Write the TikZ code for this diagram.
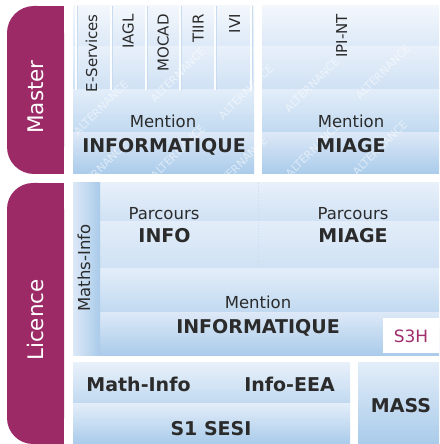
\documentclass[tikz,border=0pt]{standalone}
\usepackage{fontspec}
\setmainfont{DejaVu Sans}
\definecolor{tabc}{HTML}{9B2A67}
\definecolor{txt}{HTML}{2B2B2B}
\definecolor{sthree}{HTML}{A02F6C}
\definecolor{bA}{HTML}{F3F7FC}
\definecolor{bB}{HTML}{DCE9F7}
\definecolor{bC}{HTML}{E8F0FA}
\definecolor{bD}{HTML}{CFE1F4}
\definecolor{bE}{HTML}{E2EDF9}
\definecolor{bF}{HTML}{C0D9F0}
\definecolor{bG}{HTML}{DCE8F7}
\definecolor{bH}{HTML}{A9CBEA}
\definecolor{divc}{HTML}{C9DCEF}
\tikzset{
  tab/.style={fill=tabc},
  tablabel/.style={font=\fontsize{21.5}{21.5}\selectfont, text=white, rotate=90, anchor=base, inner sep=0pt},
  reg/.style={font=\fontsize{16.5}{16.5}\selectfont, text=txt, anchor=base, inner sep=0pt},
  bld/.style={font=\bfseries\fontsize{19}{19}\selectfont, text=txt, anchor=base, inner sep=0pt},
  vlab/.style={font=\fontsize{15}{15}\selectfont, text=txt, rotate=90, anchor=base east, inner sep=0pt},
  band/.style 2 args={top color=#1, bottom color=#2},
  wm/.style={font=\fontsize{11}{11}\selectfont, text=white, rotate=45, opacity=0.55, inner sep=0pt},
}
\begin{document}
\begin{tikzpicture}[x=1pt,y=1pt]
\useasboundingbox (0,0) rectangle (439,444);
\fill[white] (0,0) rectangle (439,444);
% ---------- tabs
\fill[tab, rounded corners=27pt] (7,270) rectangle (64,438);
\fill[tab] (36,270) rectangle (64,438);
\fill[tab, rounded corners=26pt] (7,0) rectangle (64,261);
\fill[tab] (36,0) rectangle (64,261);
\node[tablabel] (master) at (43.5,347) {Master};
\node[tablabel] (licence) at (43.5,124) {Licence};
% ---------- Master panels
\foreach \xa/\xb in {73/254, 262/439}{
  \shade[band={bA}{bB}] (\xa,397) rectangle (\xb,438);
  \shade[band={bC}{bD}] (\xa,354) rectangle (\xb,397);
  \shade[band={bE}{bF}] (\xa,311) rectangle (\xb,354);
  \shade[band={bG}{bH}] (\xa,270) rectangle (\xb,311);
}
% column dividers
\foreach \xd in {76,111,146,180,215,251}{
  \draw[white, line width=1.4pt, opacity=0.9] (\xd,438) -- (\xd,354);
  \draw[divc, line width=0.8pt] (\xd+1.3,438) -- (\xd+1.3,354);
}
% watermark
\begin{scope}
  \clip (73,270) rectangle (254,438) (262,270) rectangle (439,438);
  \foreach \wx/\wy [count=\i] in {101/336, 178/369, 246/352, 100/275, 178/292, 240/280,
      312/359, 383/372, 313/294, 380/296}{
    \node[wm] (wm\i) at (\wx,\wy) {ALTERNANCE};
  }
\end{scope}
\node[vlab] (eserv) at (97,430) {E-Services};
\node[vlab] (iagl) at (133.5,430) {IAGL};
\node[vlab] (mocad) at (168.5,430) {MOCAD};
\node[vlab] (tiir) at (203.5,430) {TIIR};
\node[vlab] (ivi) at (240,430) {IVI};
\node[vlab] (ipint) at (347,430) {IPI-NT};
\node[reg] (mentM) at (163,316) {Mention};
\node[bld] (infoM) at (164,291) {INFORMATIQUE};
\node[reg] (mentMi) at (351,316) {Mention};
\node[bld] (miageM) at (351,291) {MIAGE};
% ---------- Licence panel
\shade[band={bC}{bD}] (73,222) rectangle (439,261);
\shade[band={bE}{bD}] (73,175) rectangle (439,222);
\shade[band={bE}{bF}] (73,131) rectangle (439,175);
\shade[band={bG}{bH}] (73,88) rectangle (439,131);
\shade[left color=bG, right color=bH] (73,88) rectangle (100,261);
\draw[divc, dotted, line width=0.8pt] (258,261) -- (258,175);
\node[font=\fontsize{16.5}{16.5}\selectfont, text=txt, rotate=90, anchor=base, inner sep=0pt] (mathsinfo) at (90,176) {Maths-Info};
\node[reg] (parcI) at (164,224) {Parcours};
\node[bld] (info) at (164.5,201) {INFO};
\node[reg] (parcM) at (353,224) {Parcours};
\node[bld] (miageL) at (353,201) {MIAGE};
\node[reg] (mentL) at (258,135) {Mention};
\node[bld] (infoL) at (258,110) {INFORMATIQUE};
\fill[white] (383,91) rectangle (439,126);
\node[font=\fontsize{17}{17}\selectfont, text=sthree, anchor=base, inner sep=0pt] (s3h) at (411,101) {S3H};
% ---------- bottom panels
\shade[band={bC}{bF}] (73,40) rectangle (350,81);
\shade[band={bE}{bH}] (73,0) rectangle (350,40);
\shade[band={bE}{bH}] (358,0) rectangle (439,81);
\node[bld] (mathinfo) at (138.5,52) {Math-Info};
\node[bld] (infoeea) at (289.5,52) {Info-EEA};
\node[bld] (s1sesi) at (211,9) {S1 SESI};
\node[bld] (mass) at (401,31.5) {MASS};
\end{tikzpicture}
\end{document}
